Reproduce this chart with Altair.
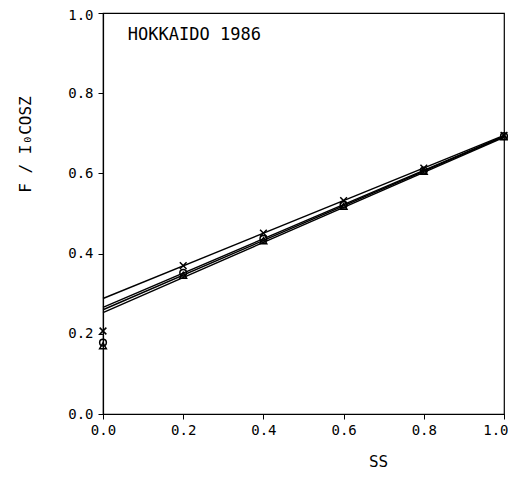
import altair as alt
import pandas as pd

# Regression lines (value at SS=0 and SS=1)
fit_x = [0.0, 1.0]
fit_A = [0.288, 0.695]
fit_B = [0.266, 0.693]
fit_C = [0.260, 0.692]
fit_D = [0.253, 0.690]

# Plotted points
ss = [0.2, 0.4, 0.6, 0.8, 1.0]
pts_A = [0.370, 0.451, 0.532, 0.613, 0.695]
pts_B = [0.352, 0.437, 0.522, 0.607, 0.693]
pts_C = [0.346, 0.432, 0.518, 0.605, 0.691]

# Observed points at SS = 0
obs_series = ["A", "B", "C"]
obs_vals = [0.207, 0.178, 0.170]

title_text = "HOKKAIDO 1986"

lines = []
for name, vals in [("A", fit_A), ("B", fit_B), ("C", fit_C), ("D", fit_D)]:
    for x, y in zip(fit_x, vals):
        lines.append({"series": name, "ss": x, "val": y})
lines_df = pd.DataFrame(lines)

pts = []
for name, vals in [("A", pts_A), ("B", pts_B), ("C", pts_C)]:
    for x, y in zip(ss, vals):
        pts.append({"series": name, "ss": x, "val": y})
for name, y in zip(obs_series, obs_vals):
    pts.append({"series": name, "ss": 0.0, "val": y})
pts_df = pd.DataFrame(pts)

ann_df = pd.DataFrame({"ss": [0.062], "val": [0.933], "label": [title_text]})

FONT = "DejaVu Sans Mono"
ticks = [0.0, 0.2, 0.4, 0.6, 0.8, 1.0]

xscale = alt.Scale(domain=[0, 1], nice=False, zero=False)
yscale = alt.Scale(domain=[0, 1], nice=False, zero=False)

xaxis = alt.Axis(values=ticks, format=".1f", title="SS", titleX=275, titleY=47,
                 titleAlign="center", titleBaseline="middle", labelFlush=False,
                 labelAlign={"condition": {"test": "datum.value == 1", "value": "right"}, "value": "center"},
                 labelOffset={"condition": {"test": "datum.value == 1", "value": 4}, "value": 0})
yaxis = alt.Axis(values=ticks, format=".1f", title="F / I\u2080COSZ", titleX=-78, titleY=131,
                 titleAlign="center", titleBaseline="middle", titleAngle=270, labelFlush=False,
                 labelOffset={"condition": {"test": "datum.value == 1", "value": 2}, "value": 0})

line_layer = alt.Chart(lines_df).mark_line(color="black", strokeWidth=1.4).encode(
    x=alt.X("ss:Q", scale=xscale, axis=xaxis),
    y=alt.Y("val:Q", scale=yscale, axis=yaxis),
    detail="series:N",
)

point_layer = alt.Chart(pts_df).mark_point(filled=False, color="black", strokeWidth=1.5, size=45, opacity=1).encode(
    x=alt.X("ss:Q", scale=xscale),
    y=alt.Y("val:Q", scale=yscale),
    shape=alt.Shape("series:N", scale=alt.Scale(domain=["A", "B", "C"],
                    range=["M-1,-1L1,1M1,-1L-1,1", "circle", "triangle-up"]), legend=None),
)

text_layer = alt.Chart(ann_df).mark_text(font=FONT, fontSize=17, align="left", baseline="alphabetic", color="black").encode(
    x=alt.X("ss:Q", scale=xscale),
    y=alt.Y("val:Q", scale=yscale),
    text="label:N",
)

chart = alt.layer(line_layer, point_layer, text_layer).properties(
    width=401, height=401,
    autosize=alt.AutoSizeParams(type="none"),
    padding={"left": 95, "top": 5, "right": 4, "bottom": 56},
).configure_view(stroke="black", strokeWidth=1.2).configure_axis(
    grid=False, domainColor="black", domainWidth=1.2, tickColor="black", tickSize=5,
    labelFont=FONT, labelFontSize=14, labelColor="black", labelPadding=4,
    titleFont=FONT, titleFontSize=16, titleColor="black", titleFontWeight="normal",
).configure_axisY(labelPadding=5)

chart.save("out.html", embed_options={"renderer": "svg", "actions": False})
